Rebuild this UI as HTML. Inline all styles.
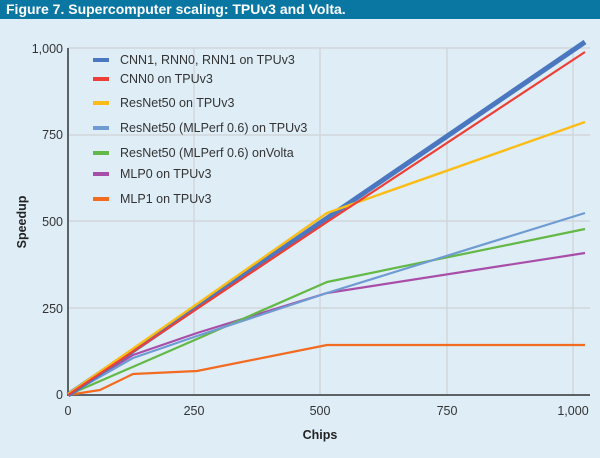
<!DOCTYPE html>
<html><head><style>
body{margin:0;width:600px;height:458px;background:#deedf6;overflow:hidden;font-family:"Liberation Sans",sans-serif;}
.h{position:absolute;left:0;top:0;width:600px;height:19px;background:#0a77a3;color:#fff;font-weight:bold;font-size:14px;line-height:19px;padding-left:6px;box-sizing:border-box;}
</style></head><body>
<div class="h">Figure 7. Supercomputer scaling: TPUv3 and Volta.</div>
<svg width="600" height="458" style="position:absolute;left:0;top:0">
<g stroke="#cfd3d5" stroke-width="1.2">
<line x1="68" y1="48" x2="590" y2="48"/><line x1="68" y1="135" x2="590" y2="135"/>
<line x1="68" y1="221" x2="590" y2="221"/><line x1="68" y1="308" x2="590" y2="308"/>
<line x1="194" y1="48" x2="194" y2="395"/><line x1="320" y1="48" x2="320" y2="395"/>
<line x1="447" y1="48" x2="447" y2="395"/><line x1="573" y1="48" x2="573" y2="395"/>
</g>
<g stroke="#5c6266" stroke-width="2"><line x1="68" y1="48" x2="68" y2="396"/><line x1="67" y1="395" x2="590" y2="395"/></g>
<g font-size="12.5" fill="#333" text-anchor="end">
<text x="63" y="53">1,000</text><text x="63" y="139">750</text><text x="63" y="226">500</text><text x="63" y="313">250</text><text x="63" y="399">0</text>
</g>
<g font-size="12.5" fill="#333" text-anchor="middle">
<text x="68" y="415">0</text><text x="194" y="415">250</text><text x="320" y="415">500</text><text x="447" y="415">750</text><text x="573" y="415">1,000</text>
</g>
<text x="320" y="439" font-size="12.5" font-weight="bold" text-anchor="middle" fill="#222">Chips</text>
<text transform="translate(26,222) rotate(-90)" font-size="12.5" font-weight="bold" text-anchor="middle" fill="#222">Speedup</text>
<g fill="none" stroke-linejoin="round">
<polyline stroke="#f36b21" stroke-width="2.2" points="68,395 100,390 133,374 197,371 327,345 585,345"/>
<polyline stroke="#a94ea8" stroke-width="2.2" points="68,395 133,355 197,333 327,293 585,253"/>
<polyline stroke="#63b846" stroke-width="2.2" points="68,395 197,339 327,282 585,229"/>
<polyline stroke="#6f9bd3" stroke-width="2.2" points="68,395 133,358 197,336 327,293 585,213"/>
<polyline stroke="#4a77c0" stroke-width="5" points="68,395 585,42"/>
<polyline stroke="#fbbd15" stroke-width="2.4" points="68,394 197,304 327,213 585,122"/>
<polyline stroke="#ee3f37" stroke-width="2.2" points="68,395 327,222 585,52"/>
</g>
<g font-size="12.5" fill="#333">
<rect x="93" y="58" width="16" height="4" fill="#4a77c0"/><text x="120" y="64">CNN1, RNN0, RNN1 on TPUv3</text>
<rect x="93" y="77" width="16" height="4" fill="#ee3f37"/><text x="120" y="83">CNN0 on TPUv3</text>
<rect x="93" y="101" width="16" height="4" fill="#fbbd15"/><text x="120" y="107">ResNet50 on TPUv3</text>
<rect x="93" y="126" width="16" height="4" fill="#6f9bd3"/><text x="120" y="132">ResNet50 (MLPerf 0.6) on TPUv3</text>
<rect x="93" y="151" width="16" height="4" fill="#63b846"/><text x="120" y="157">ResNet50 (MLPerf 0.6) onVolta</text>
<rect x="93" y="172" width="16" height="4" fill="#a94ea8"/><text x="120" y="178">MLP0 on TPUv3</text>
<rect x="93" y="197" width="16" height="4" fill="#f36b21"/><text x="120" y="203">MLP1 on TPUv3</text>
</g>
</svg>
</body></html>
